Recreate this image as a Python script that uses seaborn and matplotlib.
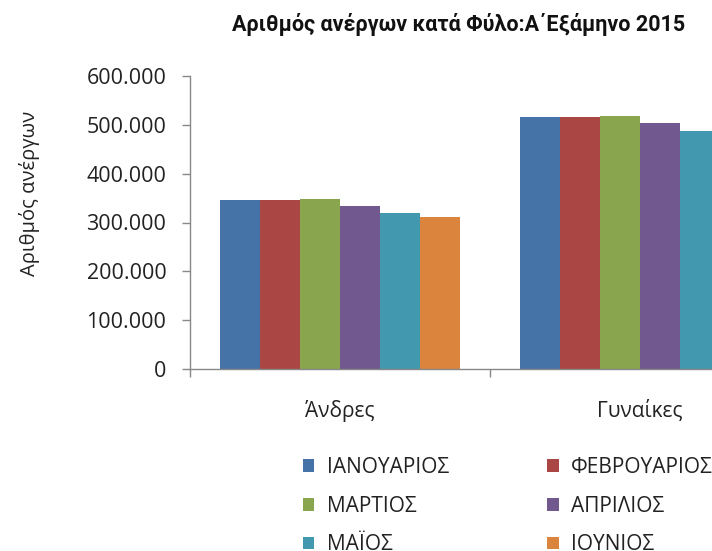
import matplotlib
matplotlib.use("Agg")
import matplotlib.pyplot as plt
import matplotlib.ticker as mticker
import seaborn as sns
import pandas as pd

categories = ["Άνδρες", "Γυναίκες"]
months = ["ΙΑΝΟΥΑΡΙΟΣ", "ΦΕΒΡΟΥΑΡΙΟΣ", "ΜΑΡΤΙΟΣ", "ΑΠΡΙΛΙΟΣ", "ΜΑΪΟΣ", "ΙΟΥΝΙΟΣ"]
men = [346000, 346000, 348000, 334500, 319000, 310500]
women = [516700, 516500, 518700, 503100, 488100, 480000]
colors = ["#4572A7", "#AA4643", "#89A54E", "#71588F", "#4198AF", "#DB843D"]
yticks = [0, 100000, 200000, 300000, 400000, 500000, 600000]

rows = []
for m, v in zip(months, men):
    rows.append({"cat": categories[0], "month": m, "value": v})
for m, v in zip(months, women):
    rows.append({"cat": categories[1], "month": m, "value": v})
df = pd.DataFrame(rows)

sns.set_theme(style="white")
plt.rcParams["font.family"] = ["Open Sans", "DejaVu Sans"]

fig = plt.figure(figsize=(7.12, 5.51), dpi=100)
ax = fig.add_axes([190 / 712, 182 / 551, 600 / 712, 293 / 551])

sns.barplot(data=df, x="cat", y="value", hue="month", order=categories,
            hue_order=months, palette=colors, width=0.8, gap=0,
            saturation=1, linewidth=0, ax=ax, legend=True)

ax.set_xlim(-0.5, 1.5)
ax.set_ylim(0, 600000)
ax.set_yticks(yticks)
ax.yaxis.set_major_formatter(mticker.FuncFormatter(
    lambda v, p: "0" if v == 0 else f"{int(v):,}".replace(",", ".")))
ax.tick_params(axis="y", which="major", left=True, length=6, width=1,
               color="#888888", labelsize=15.5, labelcolor="#222222", pad=11)
ax.tick_params(axis="x", which="major", bottom=False, labelsize=15,
               labelcolor="#222222", pad=16)
ax.set_xticks([-0.5, 0.5, 1.5], minor=True)
ax.tick_params(axis="x", which="minor", bottom=True, length=6, width=1,
               color="#888888")
for s in ["top", "right"]:
    ax.spines[s].set_visible(False)
for s in ["left", "bottom"]:
    ax.spines[s].set_color("#888888")
    ax.spines[s].set_linewidth(1)
ax.set_xlabel("")
ax.set_ylabel("Αριθμός ανέργων", fontsize=14.5, color="#222222")
ax.yaxis.set_label_coords(-150 / 600, 0.6)

handles, labels = ax.get_legend_handles_labels()
ax.get_legend().remove()
order = [0, 2, 4, 1, 3, 5]
fig.legend([handles[i] for i in order], [labels[i] for i in order],
           ncol=2, loc="upper left", bbox_to_anchor=(303 / 712, 1 - 457 / 551),
           frameon=False, fontsize=15, handlelength=0.55, handleheight=0.55,
           handletextpad=0.6, labelspacing=0.85, columnspacing=4.7,
           labelcolor="#222222", borderaxespad=0, borderpad=0)

fig.text(459 / 712, 1 - 25 / 551, "Αριθμός ανέργων κατά Φύλο:Α΄Εξάμηνο 2015",
         ha="center", va="center", fontsize=15.5, fontweight="bold",
         family=["Roboto", "DejaVu Sans"], color="#111111")

fig.savefig("out.png", dpi=100)
